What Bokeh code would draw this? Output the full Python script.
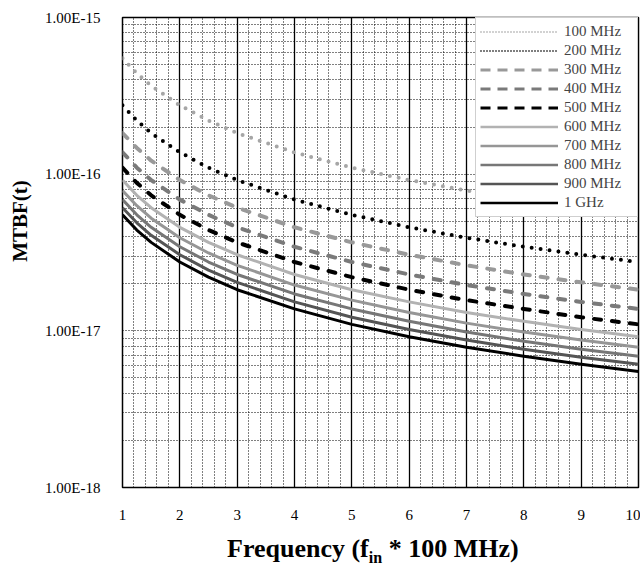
from bokeh.plotting import figure
from bokeh.layouts import column
from bokeh.models import (FixedTicker, CustomJSTickFormatter, Legend, LegendItem,
                          Range1d, Div)
from bokeh.embed import file_html
from bokeh.resources import INLINE

# ---------------- data ----------------
freq_x = [1, 1.25, 1.5, 2, 2.5, 3, 4, 5, 6, 7, 8, 9, 10]

mtbf_100 = [5.5e-16, 4.4e-16, 3.67e-16, 2.75e-16, 2.2e-16, 1.83e-16, 1.375e-16, 1.1e-16, 9.17e-17, 7.86e-17, 6.88e-17, 6.11e-17, 5.5e-17]
mtbf_200 = [2.75e-16, 2.2e-16, 1.83e-16, 1.38e-16, 1.1e-16, 9.17e-17, 6.88e-17, 5.5e-17, 4.58e-17, 3.93e-17, 3.44e-17, 3.06e-17, 2.75e-17]
mtbf_300 = [1.83e-16, 1.47e-16, 1.22e-16, 9.17e-17, 7.33e-17, 6.11e-17, 4.58e-17, 3.67e-17, 3.06e-17, 2.62e-17, 2.29e-17, 2.04e-17, 1.83e-17]
mtbf_400 = [1.38e-16, 1.1e-16, 9.17e-17, 6.88e-17, 5.5e-17, 4.58e-17, 3.44e-17, 2.75e-17, 2.29e-17, 1.96e-17, 1.72e-17, 1.53e-17, 1.38e-17]
mtbf_500 = [1.1e-16, 8.8e-17, 7.33e-17, 5.5e-17, 4.4e-17, 3.67e-17, 2.75e-17, 2.2e-17, 1.83e-17, 1.57e-17, 1.38e-17, 1.22e-17, 1.1e-17]
mtbf_600 = [9.17e-17, 7.33e-17, 6.11e-17, 4.58e-17, 3.67e-17, 3.06e-17, 2.29e-17, 1.83e-17, 1.53e-17, 1.31e-17, 1.15e-17, 1.02e-17, 9.17e-18]
mtbf_700 = [7.86e-17, 6.29e-17, 5.24e-17, 3.93e-17, 3.14e-17, 2.62e-17, 1.96e-17, 1.57e-17, 1.31e-17, 1.12e-17, 9.82e-18, 8.73e-18, 7.86e-18]
mtbf_800 = [6.88e-17, 5.5e-17, 4.58e-17, 3.44e-17, 2.75e-17, 2.29e-17, 1.72e-17, 1.38e-17, 1.15e-17, 9.82e-18, 8.59e-18, 7.64e-18, 6.88e-18]
mtbf_900 = [6.11e-17, 4.89e-17, 4.07e-17, 3.06e-17, 2.44e-17, 2.04e-17, 1.53e-17, 1.22e-17, 1.02e-17, 8.73e-18, 7.64e-18, 6.79e-18, 6.11e-18]
mtbf_1g = [5.5e-17, 4.4e-17, 3.67e-17, 2.75e-17, 2.2e-17, 1.83e-17, 1.38e-17, 1.1e-17, 9.17e-18, 7.86e-18, 6.88e-18, 6.11e-18, 5.5e-18]

series_labels = ["100 MHz", "200 MHz", "300 MHz", "400 MHz", "500 MHz",
                 "600 MHz", "700 MHz", "800 MHz", "900 MHz", "1 GHz"]
series_values = [mtbf_100, mtbf_200, mtbf_300, mtbf_400, mtbf_500,
                 mtbf_600, mtbf_700, mtbf_800, mtbf_900, mtbf_1g]

x_ticks = [1, 2, 3, 4, 5, 6, 7, 8, 9, 10]
y_ticks = [1e-18, 1e-17, 1e-16, 1e-15]
y_tick_labels = ["1.00E-18", "1.00E-17", "1.00E-16", "1.00E-15"]

y_title = "MTBF(t)"
x_title_main = "Frequency (f"
x_title_sub = "in"
x_title_rest = " * 100 MHz)"

# ---------------- styles ----------------
SERIF = "Liberation Serif"
NAN = float("nan")
# (color, plot dash, plot width, legend dash, legend width)
styles = [
    ("#a6a6a6", "0 9", 4, "1 2", 2),
    ("#000000", "0 9", 4, "1 2", 2),
    ("#999999", "7 11", 4, "10 7", 3),
    ("#7a7a7a", "7 11", 4, "10 7", 3),
    ("#000000", "7 11", 4, "10 7", 3),
    ("#b2b2b2", "solid", 3, "solid", 2.5),
    ("#969696", "solid", 3, "solid", 2.5),
    ("#777777", "solid", 3, "solid", 2.5),
    ("#555555", "solid", 3, "solid", 2.5),
    ("#000000", "solid", 3, "solid", 2.5),
]

p = figure(width=640, height=528, y_axis_type="log",
           x_range=Range1d(1, 10), y_range=Range1d(1e-18, 1e-15),
           output_backend="svg", toolbar_location=None,
           min_border_left=122, min_border_right=2, min_border_top=17,
           min_border_bottom=41, frame_width=516, frame_height=470)
p.background_fill_color = "white"
p.border_fill_color = "white"
p.outline_line_color = "black"
p.outline_line_width = 1.5

# x axis
x_minor = [round(a + b / 5, 2) for a in range(1, 10) for b in range(1, 5)]
p.xaxis.ticker = FixedTicker(ticks=x_ticks, minor_ticks=x_minor)
# y axis
y_minor = [m * 10.0 ** e for e in (-18, -17, -16) for m in range(2, 10)]
p.yaxis.ticker = FixedTicker(ticks=y_ticks, minor_ticks=y_minor)
p.yaxis.formatter = CustomJSTickFormatter(args=dict(yt=y_ticks, yl=y_tick_labels), code="""
let best = 0;
const lt = Math.log10(tick);
for (let i = 0; i < yt.length; i++) {
  if (Math.abs(Math.log10(yt[i]) - lt) < Math.abs(Math.log10(yt[best]) - lt)) best = i;
}
return yl[best];
""")

for ax in (p.xaxis[0], p.yaxis[0]):
    ax.axis_line_color = None
    ax.major_tick_line_color = None
    ax.minor_tick_line_color = None
    ax.major_tick_out = 0
    ax.minor_tick_out = 0
    ax.major_tick_in = 0
    ax.minor_tick_in = 0
    ax.major_label_text_font = SERIF
    ax.major_label_text_font_size = "15px"
    ax.major_label_text_color = "black"
p.xaxis.major_label_standoff = 22
p.yaxis.major_label_standoff = 22
p.yaxis.major_label_text_align = "right"

# y title: leading no-break spaces shift it up, as in the reference
p.yaxis.axis_label = "\u00a0" * 12 + y_title
p.yaxis.axis_label_text_font = SERIF
p.yaxis.axis_label_text_font_style = "bold"
p.yaxis.axis_label_text_font_size = "21px"
p.yaxis.axis_label_text_color = "black"
p.yaxis.axis_label_standoff = 10

# grids
p.xgrid.grid_line_color = "black"
p.xgrid.grid_line_width = 1.3
p.xgrid.minor_grid_line_color = "black"
p.xgrid.minor_grid_line_dash = "1 2"
p.xgrid.minor_grid_line_width = 1
p.ygrid.grid_line_color = "black"
p.ygrid.grid_line_dash = "1 2"
p.ygrid.grid_line_width = 1
p.ygrid.minor_grid_line_color = "black"
p.ygrid.minor_grid_line_dash = "1 2"
p.ygrid.minor_grid_line_width = 1

# series
items = []
for lab, vals, (col, dash, w, ldash, lw) in zip(series_labels, series_values, styles):
    p.line(freq_x, vals, line_color=col, line_width=w, line_dash=dash,
           line_cap="round" if dash != "solid" else "butt", line_join="round")
    # legend-only sample (thinner, as in the reference's key)
    dummy = p.line([NAN], [NAN], line_color=col, line_width=lw, line_dash=ldash)
    items.append(LegendItem(label=lab, renderers=[dummy]))

legend = Legend(items=items, location="top_right", margin=0, padding=4,
                spacing=0, label_height=19, glyph_height=19, glyph_width=78,
                label_width=69, label_standoff=6, label_text_font=SERIF,
                label_text_font_size="15px", background_fill_color="white",
                background_fill_alpha=1, border_line_color="#a0a0a0",
                border_line_width=1)
p.add_layout(legend)

# x title with a real subscript
x_title = Div(
    text=f'{x_title_main}<sub style="font-size:16px;">{x_title_sub}</sub>{x_title_rest}',
    width=640, height=37,
    styles={"font-family": "'Liberation Serif', serif", "font-weight": "bold",
            "font-size": "26px", "line-height": "28px", "padding-left": "222px",
            "padding-top": "2px", "color": "black", "white-space": "pre",
            "overflow": "hidden", "box-sizing": "border-box"})

layout = column(p, x_title, spacing=0)
open("out.html", "w").write(file_html(layout, INLINE))
